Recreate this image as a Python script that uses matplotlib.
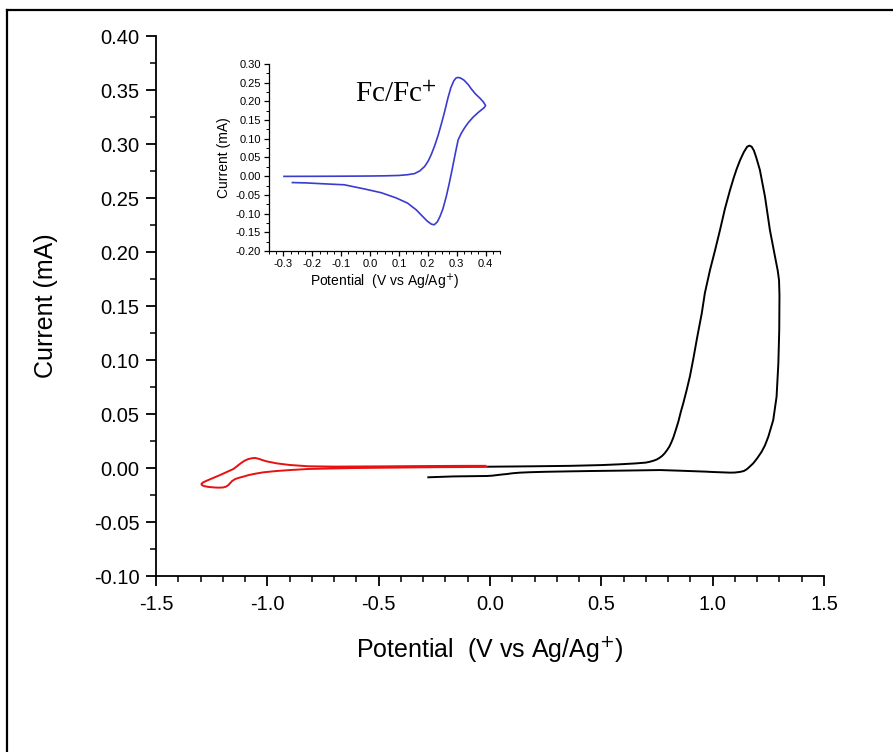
import matplotlib
matplotlib.use('Agg')
import matplotlib.pyplot as plt
from matplotlib.ticker import MultipleLocator, FormatStrFormatter
from matplotlib.lines import Line2D

plt.rcParams['font.family'] = ['Liberation Sans', 'DejaVu Sans']
plt.rcParams['axes.unicode_minus'] = False

# ---------------- data ----------------
# black CV (oxidation, 0 -> 1.3 V -> -0.28 V)
black_x = [-0.01, 0.10, 0.20, 0.36, 0.50, 0.58, 0.65, 0.70, 0.718, 0.735, 0.748, 0.760,
           0.772, 0.784, 0.795, 0.806, 0.815, 0.823, 0.834, 0.846, 0.857, 0.868, 0.883,
           0.898, 0.913, 0.931, 0.951, 0.965, 0.988, 1.010, 1.033, 1.055, 1.078, 1.095,
           1.108, 1.123, 1.140, 1.155, 1.165, 1.175, 1.185, 1.195, 1.212, 1.235, 1.257,
           1.280, 1.292, 1.298, 1.300, 1.299, 1.295, 1.287, 1.272, 1.250, 1.235, 1.220,
           1.200, 1.182, 1.165, 1.153, 1.140, 1.123, 1.100, 1.078, 1.040, 1.000, 0.973,
           0.853, 0.763, 0.600, 0.450, 0.359, 0.250, 0.180, 0.135, 0.100, 0.075, 0.050,
           0.030, 0.010, -0.015, -0.165, -0.277]
black_y = [0.0012, 0.0014, 0.0016, 0.0020, 0.0027, 0.0034, 0.0042, 0.0050, 0.0058, 0.0068,
           0.0078, 0.0092, 0.0110, 0.0135, 0.0165, 0.0200, 0.0240, 0.0280, 0.0350, 0.0430,
           0.0520, 0.0600, 0.0720, 0.0850, 0.1010, 0.1216, 0.1432, 0.1620, 0.1833, 0.2010,
           0.2204, 0.2400, 0.2574, 0.2690, 0.2770, 0.2850, 0.2925, 0.2975, 0.2985, 0.2975,
           0.2940, 0.2880, 0.2760, 0.2512, 0.2204, 0.1957, 0.1830, 0.1740, 0.1600, 0.1278,
           0.0969, 0.0660, 0.0444, 0.0290, 0.0210, 0.0151, 0.0090, 0.0043, 0.0010, -0.0012,
           -0.0028, -0.0036, -0.0042, -0.0043, -0.0040, -0.0037, -0.0034, -0.0025, -0.0019,
           -0.0024, -0.0028, -0.0031, -0.0035, -0.0039, -0.0043, -0.0049, -0.0056, -0.0061,
           -0.0066, -0.0071, -0.0074, -0.0078, -0.0086]

# red CV (reduction, 0 -> -1.3 V -> 0)
red_x = [-0.015, -0.20, -0.314, -0.50, -0.60, -0.70, -0.816, -0.898, -0.960, -1.018,
         -1.060, -1.085, -1.108, -1.130, -1.145, -1.158, -1.167, -1.175, -1.185, -1.198,
         -1.220, -1.240, -1.265, -1.283, -1.293, -1.296, -1.290, -1.275, -1.250, -1.212,
         -1.180, -1.153, -1.137, -1.125, -1.115, -1.100, -1.085, -1.070, -1.055, -1.040,
         -1.020, -1.000, -0.958, -0.900, -0.816, -0.700, -0.500, -0.300, -0.100, -0.020]
red_y = [0.0010, 0.0008, 0.0006, 0.0002, 0.0000, -0.0004, -0.0009, -0.0019, -0.0028, -0.0040,
         -0.0055, -0.0066, -0.0080, -0.0092, -0.0103, -0.0120, -0.0140, -0.0158, -0.0172,
         -0.0180, -0.0182, -0.0180, -0.0175, -0.0168, -0.0160, -0.0148, -0.0135, -0.0120,
         -0.0098, -0.0065, -0.0035, -0.0010, 0.0015, 0.0035, 0.0050, 0.0070, 0.0083,
         0.0090, 0.0093, 0.0086, 0.0072, 0.0060, 0.0043, 0.0028, 0.0016, 0.0013, 0.0015,
         0.0018, 0.0020, 0.0020]

# inset: ferrocene reference CV
fc_x = [-0.298, -0.200, -0.100, 0.000, 0.050, 0.100, 0.130, 0.154, 0.172, 0.189, 0.201,
        0.212, 0.224, 0.236, 0.247, 0.258, 0.270, 0.280, 0.290, 0.297, 0.303, 0.312,
        0.325, 0.340, 0.351, 0.365, 0.380, 0.392, 0.400, 0.395, 0.385, 0.374, 0.357,
        0.340, 0.328, 0.316, 0.305, 0.295, 0.284, 0.274, 0.264, 0.252, 0.242, 0.233,
        0.222, 0.212, 0.198, 0.180, 0.160, 0.130, 0.090, 0.038, -0.020, -0.089, -0.170,
        -0.220, -0.269]
fc_y = [-0.0005, -0.0003, 0.000, 0.0005, 0.001, 0.002, 0.004, 0.007, 0.014, 0.026, 0.040,
        0.058, 0.082, 0.110, 0.140, 0.172, 0.210, 0.237, 0.255, 0.262, 0.264, 0.263,
        0.257, 0.245, 0.233, 0.220, 0.209, 0.199, 0.189, 0.183, 0.177, 0.170, 0.158,
        0.143, 0.130, 0.115, 0.097, 0.060, 0.017, -0.020, -0.054, -0.088, -0.108, -0.122,
        -0.130, -0.128, -0.120, -0.106, -0.090, -0.072, -0.058, -0.044, -0.034, -0.023,
        -0.020, -0.018, -0.017]

main_xticks = [-1.5, -1.0, -0.5, 0.0, 0.5, 1.0, 1.5]
main_yticks = [-0.10, -0.05, 0.00, 0.05, 0.10, 0.15, 0.20, 0.25, 0.30, 0.35, 0.40]
inset_xticks = [-0.3, -0.2, -0.1, 0.0, 0.1, 0.2, 0.3, 0.4]
inset_yticks = [-0.20, -0.15, -0.10, -0.05, 0.00, 0.05, 0.10, 0.15, 0.20, 0.25, 0.30]

# ---------------- figure ----------------
W, H = 893, 752
fig = plt.figure(figsize=(W / 100, H / 100), dpi=100)
fig.patch.set_facecolor('white')

# page frame (only top and left edges are visible)
fig.add_artist(Line2D([7 / W, 7 / W], [0, 1 - 10 / H], transform=fig.transFigure,
                      color='black', lw=1.6))
fig.add_artist(Line2D([7 / W, 1], [1 - 10 / H, 1 - 10 / H], transform=fig.transFigure,
                      color='black', lw=1.6))

ax = fig.add_axes([156 / W, 1 - 576 / H, 668 / W, 540 / H])
ax.plot(black_x, black_y, color='black', lw=1.4)
ax.plot(red_x, red_y, color='#e81010', lw=1.4)
ax.set_xlim(-1.5, 1.5)
ax.set_ylim(-0.10, 0.40)
ax.set_xticks(main_xticks)
ax.set_yticks(main_yticks)
ax.xaxis.set_minor_locator(MultipleLocator(0.1))
ax.yaxis.set_minor_locator(MultipleLocator(0.025))
ax.xaxis.set_major_formatter(FormatStrFormatter('%.1f'))
ax.yaxis.set_major_formatter(FormatStrFormatter('%.2f'))
for s in ['top', 'right']:
    ax.spines[s].set_visible(False)
for s in ['left', 'bottom']:
    ax.spines[s].set_linewidth(1.3)
ax.tick_params(which='major', direction='out', length=7, width=1.3, labelsize=14.5)
ax.tick_params(axis='y', which='major', pad=5)
ax.tick_params(axis='x', which='major', pad=7)
ax.tick_params(which='minor', direction='out', length=4, width=1.1)
ax.set_xlabel('Potential  (V vs Ag/Ag$^{+}$)', fontsize=18, labelpad=14,
              math_fontfamily='dejavusans')
ax.set_ylabel('Current (mA)', fontsize=18, labelpad=26)

# inset
ax2 = fig.add_axes([269 / W, 1 - 251 / H, 231 / W, 187 / H])
ax2.plot(fc_x, fc_y, color='#3b3bd0', lw=1.2)
ax2.set_xlim(-0.35, 0.45)
ax2.set_ylim(-0.20, 0.30)
ax2.set_xticks(inset_xticks)
ax2.set_yticks(inset_yticks)
ax2.xaxis.set_minor_locator(MultipleLocator(0.025))
ax2.yaxis.set_minor_locator(MultipleLocator(0.025))
ax2.xaxis.set_major_formatter(FormatStrFormatter('%.1f'))
ax2.yaxis.set_major_formatter(FormatStrFormatter('%.2f'))
for s in ['top', 'right']:
    ax2.spines[s].set_visible(False)
for s in ['left', 'bottom']:
    ax2.spines[s].set_linewidth(0.9)
ax2.tick_params(which='major', direction='out', length=3.5, width=0.9, labelsize=8, pad=2.5)
ax2.tick_params(which='minor', direction='out', length=2, width=0.7)
ax2.set_xlabel('Potential  (V vs Ag/Ag$^{+}$)', fontsize=10, labelpad=2,
               math_fontfamily='dejavusans')
ax2.set_ylabel('Current (mA)', fontsize=10, labelpad=3)

fig.text(355 / W, 1 - 102 / H, 'Fc/Fc$^{+}$', fontfamily='Liberation Serif', fontsize=21,
         math_fontfamily='stix', va='baseline', ha='left')

fig.savefig('out.png', dpi=100, facecolor='white')
